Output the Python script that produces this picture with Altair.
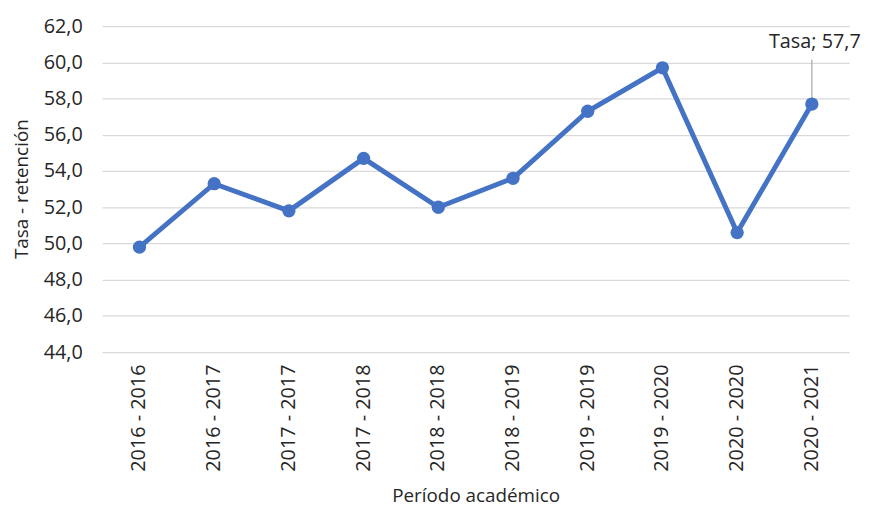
import altair as alt
import pandas as pd

periodos = ["2016 - 2016", "2016 - 2017", "2017 - 2017", "2017 - 2018", "2018 - 2018",
            "2018 - 2019", "2019 - 2019", "2019 - 2020", "2020 - 2020", "2020 - 2021"]
tasa = [49.8, 53.3, 51.8, 54.7, 52.0, 53.6, 57.3, 59.7, 50.6, 57.7]
y_ticks = [44, 46, 48, 50, 52, 54, 56, 58, 60, 62]

df = pd.DataFrame({"periodo": periodos, "tasa": tasa})

FONT = "Open Sans"
TXT = "#262626"
BLUE = "#4472C4"

x_enc = alt.X("periodo:N", sort=periodos,
              scale=alt.Scale(paddingInner=0, paddingOuter=0),
              axis=alt.Axis(title="Período académico", labelAngle=-90, ticks=False,
                            domain=False, grid=False, labelPadding=12, labelOverlap=False,
                            labelFont=FONT, labelFontSize=20, labelColor=TXT,
                            titleFont=FONT, titleFontSize=19, titleFontWeight="normal",
                            titleColor=TXT, titleY=155, titleBaseline="bottom"))
y_enc = alt.Y("tasa:Q", scale=alt.Scale(domain=[44, 62], nice=False, zero=False),
              axis=alt.Axis(title="Tasa - retención", values=y_ticks, ticks=False,
                            domain=False, grid=True, gridColor="#d9d9d9", gridWidth=1.3,
                            labelOverlap=False,
                            labelExpr="replace(format(datum.value, '.1f'), '.', ',')",
                            labelPadding=20, labelFont=FONT, labelFontSize=20,
                            labelColor=TXT, titleFont=FONT, titleFontSize=19,
                            titleFontWeight="normal", titleColor=TXT,
                            titleX=-81, titleY=164, titleBaseline="middle"))

base = alt.Chart(df)

line = base.mark_line(color=BLUE, strokeWidth=5).encode(x=x_enc, y=y_enc)
pts = base.mark_point(filled=True, color=BLUE, size=180, opacity=1).encode(x=x_enc, y=y_enc)

last = base.transform_filter(alt.datum.periodo == periodos[-1]).transform_calculate(
    lbl="'Tasa; ' + replace(format(datum.tasa, '.1f'), '.', ',')")

leader = last.mark_rule(color="#a6a6a6", strokeWidth=1.2).encode(
    x=x_enc, y=y_enc, y2=alt.value(34))
label = last.mark_text(font=FONT, fontSize=20, color=TXT, align="center",
                       baseline="middle", dy=-63, dx=3).encode(
    x=x_enc, y=y_enc, text="lbl:N")

chart = alt.layer(leader, line, pts, label).properties(
    width=754, height=329,
    background="white",
    autosize=alt.AutoSizeParams(type="none"),
    padding={"left": 95, "top": 16, "right": 22, "bottom": 156},
).configure_view(stroke=None)

chart.save("out.html", embed_options={"renderer": "svg", "actions": False})
